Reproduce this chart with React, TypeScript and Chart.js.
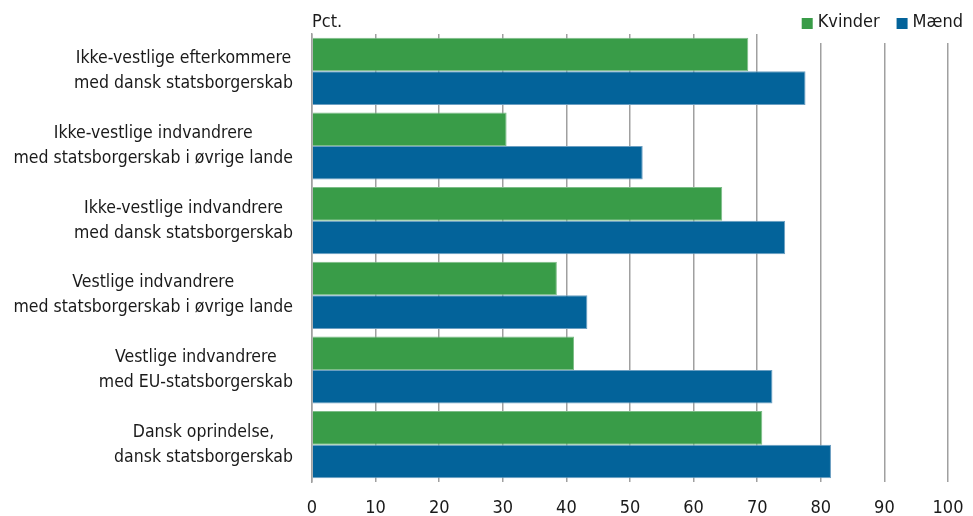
import React, { useEffect, useRef } from "react";
import { Chart, registerables } from "chart.js";

Chart.register(...registerables);

const categories: string[][] = [
  ["Ikke-vestlige efterkommere", "med dansk statsborgerskab"],
  ["Ikke-vestlige indvandrere", "med statsborgerskab i øvrige lande"],
  ["Ikke-vestlige indvandrere", "med dansk statsborgerskab"],
  ["Vestlige indvandrere", "med statsborgerskab i øvrige lande"],
  ["Vestlige indvandrere", "med EU-statsborgerskab"],
  ["Dansk oprindelse,", "dansk statsborgerskab"],
];

const kvinder: number[] = [68.6, 30.6, 64.5, 38.5, 41.2, 70.8];
const maend: number[] = [77.6, 52.0, 74.4, 43.3, 72.4, 81.6];

const xTicks: number[] = [0, 10, 20, 30, 40, 50, 60, 70, 80, 90, 100];

const FONT = "'Liberation Sans Narrow', 'DejaVu Sans Condensed', 'Roboto Condensed', 'Liberation Sans', sans-serif";
const TEXT = "#1a1a1a";
const GREEN = "#399c48";
const BLUE = "#03639a";
const GRID = "#a0a0a0";

// "Pct." unit label and the legend (drawn from the datasets) on the top line
const headerPlugin = {
  id: "header",
  afterDraw(chart: any) {
    const { ctx, chartArea } = chart;
    const y = chartArea.top - 11.5;
    ctx.save();
    ctx.font = `18px ${FONT}`;
    ctx.textBaseline = "middle";

    // unit label
    ctx.fillStyle = TEXT;
    ctx.textAlign = "left";
    ctx.fillText("Pct.", chart.scales.x.left, y);

    // legend
    const box = 11;
    const textGap = 5;
    const itemGap = 17;
    const items = chart.data.datasets.map((ds: any) => ({
      label: ds.label as string,
      color: ds.backgroundColor as string,
      w: box + textGap + ctx.measureText(ds.label).width,
    }));
    const total = items.reduce((s: number, it: any) => s + it.w, 0) + itemGap * (items.length - 1);
    let x = chart.width - 10 - total;

    // white legend background covering the top of the grid lines
    ctx.fillStyle = "#ffffff";
    ctx.fillRect(x - 12, 0, chart.width - x + 12, chartArea.top + 9);

    items.forEach((it: any) => {
      ctx.fillStyle = it.color;
      ctx.fillRect(x, y - box / 2 + 1, box, box);
      ctx.fillStyle = TEXT;
      ctx.fillText(it.label, x + box + textGap, y);
      x += it.w + itemGap;
    });
    ctx.restore();
  },
};

const categoryLabelPlugin = {
  id: "categoryLabels",
  afterDraw(chart: any) {
    const { ctx } = chart;
    const yScale = chart.scales.y;
    const rightEdge = yScale.right - 19;
    const lineGap = 25;
    ctx.save();
    ctx.font = `17.5px ${FONT}`;
    ctx.fillStyle = TEXT;
    ctx.textBaseline = "middle";
    ctx.textAlign = "center";
    categories.forEach((lines, i) => {
      const cy = yScale.getPixelForTick(i);
      const w = Math.max(...lines.map((l) => ctx.measureText(l).width));
      const cx = rightEdge - w / 2;
      const startY = cy - ((lines.length - 1) * lineGap) / 2;
      lines.forEach((l, j) => ctx.fillText(l, cx, startY + j * lineGap));
    });
    ctx.restore();
  },
};

export default function App() {
  const ref = useRef<HTMLCanvasElement | null>(null);

  useEffect(() => {
    if (!ref.current) return;
    const chart = new Chart(ref.current, {
      type: "bar",
      data: {
        labels: categories.map((c) => c.join(" ")),
        datasets: [
          {
            label: "Kvinder",
            data: kvinder,
            backgroundColor: GREEN,
            borderColor: "#7dbd88",
            borderWidth: 1,
            categoryPercentage: 0.9,
            barPercentage: 1,
          },
          {
            label: "Mænd",
            data: maend,
            backgroundColor: BLUE,
            borderColor: "#6c9fc2",
            borderWidth: 1,
            categoryPercentage: 0.9,
            barPercentage: 1,
          },
        ],
      },
      options: {
        indexAxis: "y",
        animation: false,
        responsive: false,
        maintainAspectRatio: false,
        layout: { padding: { top: 34, right: 0, bottom: 0, left: 0 } },
        plugins: {
          legend: { display: false },
          tooltip: { enabled: false },
        },
        scales: {
          x: {
            min: 0,
            max: 100,
            afterBuildTicks: (scale: any) => {
              scale.ticks = xTicks.map((v) => ({ value: v }));
            },
            afterFit: (scale: any) => {
              scale.height = 34;
              scale.paddingRight = 25;
            },
            grid: {
              color: GRID,
              lineWidth: 1.5,
              drawTicks: false,
            },
            border: { display: false },
            ticks: {
              color: TEXT,
              font: { family: FONT, size: 18 },
              padding: 16,
              maxRotation: 0,
            },
          },
          y: {
            grid: { display: false },
            border: { display: true, color: GRID, width: 1.5 },
            afterFit: (scale: any) => {
              scale.width = 312;
            },
            ticks: { display: false },
          },
        },
      },
      plugins: [headerPlugin, categoryLabelPlugin],
    });
    return () => chart.destroy();
  }, []);

  return (
    <div style={{ position: "absolute", left: 0, top: 0, width: 973, height: 516, background: "#fff" }}>
      <canvas ref={ref} width={973} height={516} style={{ width: 973, height: 516 }} />
    </div>
  );
}
